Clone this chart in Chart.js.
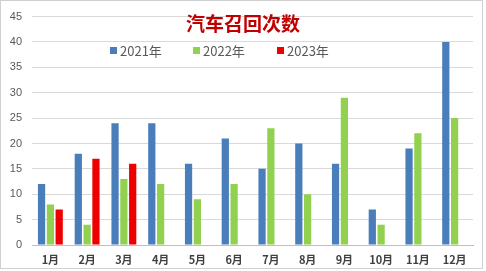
<!DOCTYPE html>
<html>
<head>
<meta charset="utf-8">
<script src="https://cdn.jsdelivr.net/npm/chart.js@4"></script>
<style>
  html, body { margin: 0; padding: 0; background: #fff; }
  #wrap { position: relative; width: 486px; height: 271px; }
</style>
</head>
<body>
<div id="wrap"><canvas id="recall-chart" width="486" height="271"></canvas></div>
<script>
/* ---- data ---- */
var months = ['1月', '2月', '3月', '4月', '5月', '6月', '7月', '8月', '9月', '10月', '11月', '12月'];
var recalls2021 = [12, 18, 24, 24, 16, 21, 15, 20, 16, 7, 19, 40];
var recalls2022 = [8, 4, 13, 12, 9, 12, 23, 10, 29, 4, 22, 25];
var recalls2023 = [7, 17, 16, null, null, null, null, null, null, null, null, null];
var seriesNames = ['2021年', '2022年', '2023年'];
var chartTitle = '汽车召回次数';

var colors = ['#4a7ebb', '#92d050', '#ee0000'];
var cjkFont = "'Noto Sans CJK SC', 'Noto Sans', sans-serif";

/* title, legend and frame sit inside the plot area, so draw them by hand */
var overlay = {
  id: 'overlay',
  afterDraw: function(chart) {
    var ctx = chart.ctx;
    ctx.save();
    // frame
    ctx.strokeStyle = '#d0d0d0';
    ctx.lineWidth = 1;
    ctx.strokeRect(0.5, 0.5, 482, 268);
    // title
    ctx.fillStyle = '#c00000';
    ctx.font = 'bold 19px ' + cjkFont;
    ctx.textAlign = 'center';
    ctx.textBaseline = 'middle';
    ctx.fillText(chartTitle, 243, 24);
    // legend
    var xs = [110, 193, 277];
    ctx.font = '13px ' + cjkFont;
    ctx.textAlign = 'left';
    for (var i = 0; i < seriesNames.length; i++) {
      ctx.fillStyle = colors[i];
      ctx.fillRect(xs[i], 47, 7, 7);
      ctx.fillStyle = '#595959';
      ctx.fillText(seriesNames[i], xs[i] + 10, 51);
    }
    ctx.restore();
  }
};

new Chart(document.getElementById('recall-chart'), {
  type: 'bar',
  data: {
    labels: months,
    datasets: [
      { label: seriesNames[0], data: recalls2021, backgroundColor: colors[0] },
      { label: seriesNames[1], data: recalls2022, backgroundColor: colors[1] },
      { label: seriesNames[2], data: recalls2023, backgroundColor: colors[2] }
    ]
  },
  options: {
    responsive: false,
    animation: false,
    layout: { padding: { top: 8, right: 13, left: 0, bottom: 0 } },
    datasets: { bar: { categoryPercentage: 0.72, barPercentage: 0.82 } },
    plugins: {
      legend: { display: false },
      title: { display: false },
      tooltip: { enabled: false }
    },
    scales: {
      x: {
        grid: { display: false, drawTicks: false },
        border: { color: '#bfbfbf' },
        ticks: {
          color: '#404040',
          padding: 8,
          font: { family: cjkFont, size: 11, weight: 'bold' }
        },
        afterFit: function(s) { s.height = 26; }
      },
      y: {
        min: 0,
        max: 45,
        ticks: {
          stepSize: 5,
          color: '#595959',
          padding: 10,
          font: { family: "'Liberation Sans', Arial, sans-serif", size: 11 }
        },
        grid: { color: '#d9d9d9', drawTicks: false },
        border: { display: false },
        afterFit: function(s) { s.width = 32; }
      }
    }
  },
  plugins: [overlay]
});
</script>
</body>
</html>
